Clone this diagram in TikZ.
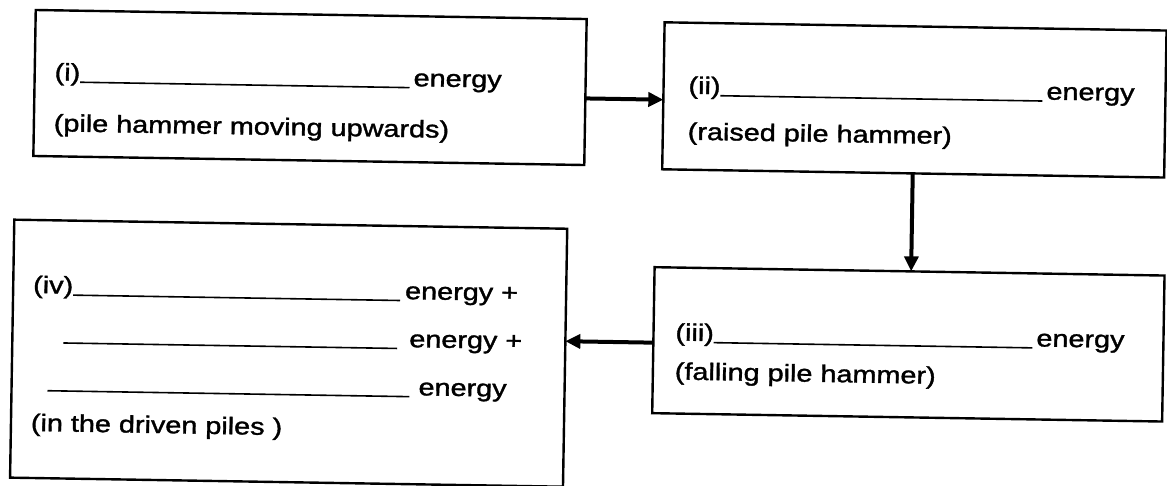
\documentclass[tikz,border=0pt]{standalone}
\usepackage{fontspec}
\setmainfont{Liberation Sans}
\newfontfamily\scanfont{Liberation Sans}[FakeBold=1.3]
\usetikzlibrary{arrows.meta}
\newcommand\widetxt[1]{\scalebox{1.2}[1]{#1}}
\begin{document}
\begin{tikzpicture}[x=1pt,y=-1pt,
  box/.style={draw, line width=2.4pt, inner sep=0pt, outer sep=0pt},
  txt/.style={anchor=base west, inner sep=0pt, outer sep=0pt, font=\scanfont\fontsize{24}{28}\selectfont},
  uline/.style={line width=1.6pt},
  arr/.style={line width=4pt, -{Triangle[length=15pt,width=14pt]}}]
\useasboundingbox[fill=white] (0,0) rectangle (1167,485);
\begin{scope}[rotate around={-0.94:(583,242)}, transform shape]
  % boxes
  \node[box, minimum width=551pt, minimum height=146pt] (b1) at (307.5,92) {};
  \node[box, minimum width=502pt, minimum height=147pt] (b2) at (912,94.5) {};
  \node[box, minimum width=510pt, minimum height=146pt] (b3) at (910,339) {};
  \node[box, minimum width=553pt, minimum height=258pt] (b4) at (290.5,358) {};
  % box 1
  \node[txt] (t1a) at (52,89) {\widetxt{(i)}};
  \node[txt] (t1e) at (411,89) {\widetxt{energy}};
  \draw[uline] ([yshift=-1.5pt]t1a.base east) -- ([xshift=-4pt,yshift=-1.5pt]t1e.base west);
  \node[txt] (t1b) at (52,140) {\widetxt{(pile hammer moving upwards)}};
  % box 2
  \node[txt] (t2a) at (686,92) {\widetxt{(ii)}};
  \node[txt] (t2e) at (1044,92) {\widetxt{energy}};
  \draw[uline] ([yshift=-1.5pt]t2a.base east) -- ([xshift=-4pt,yshift=-1.5pt]t2e.base west);
  \node[txt] (t2b) at (686,138) {\widetxt{(raised pile hammer)}};
  % box 3
  \node[txt] (t3a) at (677,339) {\widetxt{(iii)}};
  \node[txt] (t3e) at (1038,339) {\widetxt{energy}};
  \draw[uline] ([yshift=-1.5pt]t3a.base east) -- ([xshift=-4pt,yshift=-1.5pt]t3e.base west);
  \node[txt] (t3b) at (677,378) {\widetxt{(falling pile hammer)}};
  % box 4
  \node[txt] (t4a) at (34,302) {\widetxt{(iv)}};
  \node[txt] (t4e1) at (406,302) {\widetxt{energy +}};
  \draw[uline] ([yshift=-1.5pt]t4a.base east) -- ([xshift=-5pt,yshift=-1.5pt]t4e1.base west);
  \coordinate (u2) at (65,350);
  \node[txt] (t4e2) at (411,350) {\widetxt{energy +}};
  \draw[uline] ([yshift=-1.5pt]u2) -- ([xshift=-12pt,yshift=-1.5pt]t4e2.base west);
  \coordinate (u3) at (50,398);
  \node[txt] (t4e3) at (421,398) {\widetxt{energy}};
  \draw[uline] ([yshift=-1.5pt]u3) -- ([xshift=-9pt,yshift=-1.5pt]t4e3.base west);
  \node[txt] (t4b) at (34,440) {\widetxt{(in the driven piles )}};
  % connectors
  \coordinate (a1) at (0,98.4);
  \coordinate (a2) at (911.6,0);
  \coordinate (a3) at (0,341.5);
  \draw[arr] (b1.east |- a1) -- (b2.west |- a1);
  \draw[arr] (b2.south -| a2) -- (b3.north -| a2);
  \draw[arr] (b3.west |- a3) -- (b4.east |- a3);
\end{scope}
\end{tikzpicture}
\end{document}
